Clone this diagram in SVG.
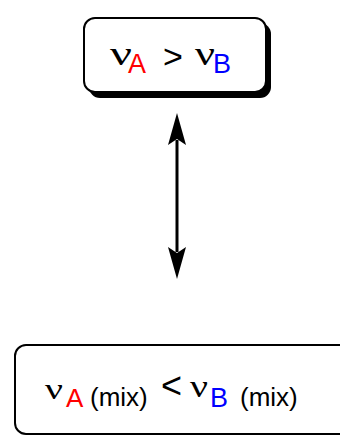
<svg xmlns="http://www.w3.org/2000/svg" width="340" height="436" viewBox="0 0 340 436">
<style>
.box{fill:#fff;stroke:#000;stroke-width:2}
text{font-family:"Liberation Sans",Arial,sans-serif;fill:#000}
.nu{font-family:"Liberation Serif","Times New Roman",serif}
.r{fill:#ff0000}
.b{fill:#0000ff}
</style>
<rect width="340" height="436" fill="#fff"/>
<g id="top">
<rect x="89" y="23" width="182" height="75" rx="11" fill="#000"/>
<rect class="box" x="84" y="18" width="182" height="74" rx="11"/>
<text class="nu" x="110" y="65" font-size="34" textLength="22" lengthAdjust="spacingAndGlyphs">ν</text>
<text class="r" x="128" y="73" font-size="27">A</text>
<text x="163" y="68" font-size="34">&gt;</text>
<text class="nu" x="195" y="65" font-size="34" textLength="20" lengthAdjust="spacingAndGlyphs">ν</text>
<text class="b" x="213" y="73" font-size="27">B</text>
</g>
<g id="connectors">
<line x1="177" y1="140" x2="177" y2="252" stroke="#000" stroke-width="3"/>
<path d="M177,113 L186,145 L177,139 L168,145 Z" fill="#000"/>
<path d="M177,279 L186,247 L177,253 L168,247 Z" fill="#000"/>
</g>
<g id="bottom">
<rect class="box" x="15" y="345" width="340" height="89" rx="11"/>
<text class="nu" x="45" y="399" font-size="30" textLength="18" lengthAdjust="spacingAndGlyphs">ν</text>
<text class="r" x="66" y="407" font-size="26">A</text>
<text x="90" y="406" font-size="26">(mix)</text>
<text x="161" y="398" font-size="36">&lt;</text>
<text class="nu" x="190" y="397" font-size="32" textLength="18" lengthAdjust="spacingAndGlyphs">ν</text>
<text class="b" x="210" y="407" font-size="27">B</text>
<text x="240" y="406" font-size="26">(mix)</text>
</g>
</svg>
